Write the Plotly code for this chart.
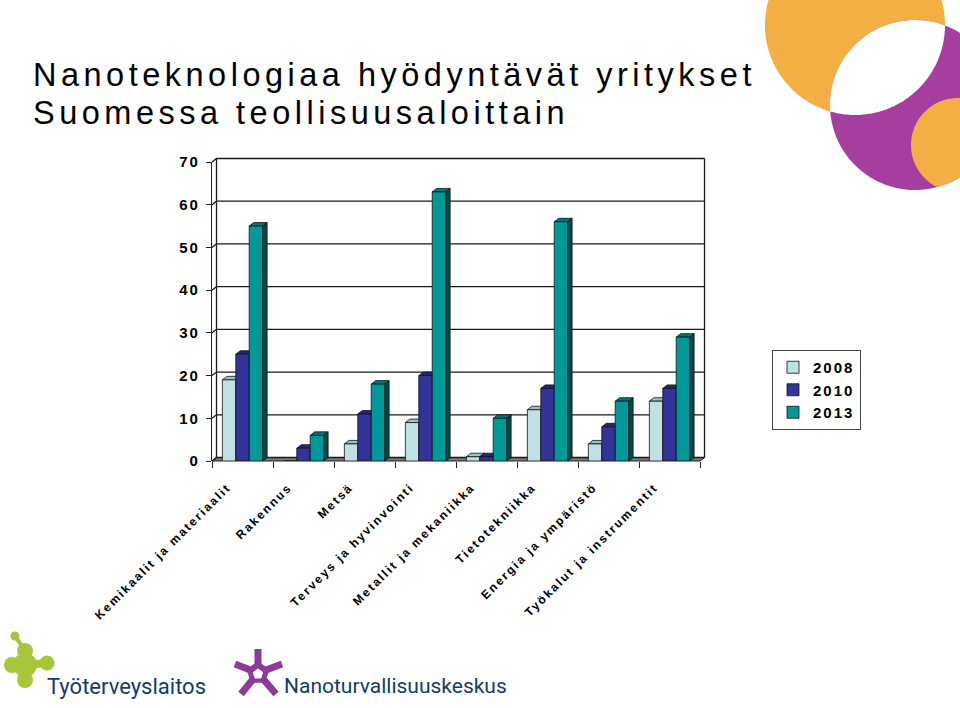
import math
import plotly.graph_objects as go

# ---------------- data ----------------
categories = ["Kemikaalit ja materiaalit", "Rakennus", "Metsä", "Terveys ja hyvinvointi",
              "Metallit ja mekaniikka", "Tietotekniikka", "Energia ja ympäristö",
              "Työkalut ja instrumentit"]
years = ["2008", "2010", "2013"]
values_2008 = [19, 0, 4, 9, 1, 12, 4, 14]
values_2010 = [25, 3, 11, 20, 1, 17, 8, 17]
values_2013 = [55, 6, 18, 63, 10, 56, 14, 29]
y_ticks = [0, 10, 20, 30, 40, 50, 60, 70]

title_line1 = "Nanoteknologiaa hyödyntävät yritykset"
title_line2 = "Suomessa teollisuusaloittain"
logo1_text = "Työterveyslaitos"
logo2_text = "Nanoturvallisuuskeskus"

# ---------------- layout geometry ----------------
W, H = 960, 708
OFF = 0                      # body margin is set to 0 by the post script
SL, SR, ST, SB = 212, 700, 162, 461   # plot area on screen
ML = SL - OFF
MT = ST - OFF
MR = W - (SR - OFF)
MB = H - (SB - OFF)
PW = SR - SL
PH = SB - ST
YMAX = y_ticks[-1]
N = len(categories)
FONT = "Liberation Sans, Arial, sans-serif"


def px_to_paper(x, y):
    return (x - OFF - ML) / PW, (H - MB - (y - OFF)) / PH


def data_x_px(xd):
    return SL + (xd + 0.5) / N * PW


def data_y_px(v):
    return SB - v / YMAX * PH


def paper_path(points, close=True):
    parts = []
    for k, (x, y) in enumerate(points):
        px, py = px_to_paper(x, y)
        parts.append(("M" if k == 0 else "L") + f"{px:.5f},{py:.5f}")
    return " ".join(parts) + (" Z" if close else "")


def ls(text, sp):
    return f'<span style="letter-spacing:{sp}px">{text}</span>'


DX, DY = 4.5, 3.5          # 3D depth in pixels
dxu = DX / (PW / N)
dyu = DY / (PH / YMAX)

front = ['#BFE0E5', '#333399', '#009999']
topc = ['#9CC0C6', '#26267A', '#007878']
sidec = ['#7DA0A6', '#1A1A55', '#004C4C']

series = [values_2008, values_2010, values_2013]
BARGAP = 0.34
bw = (1 - BARGAP) / len(series)

fig = go.Figure()
for j, (name, vals) in enumerate(zip(years, series)):
    fig.add_trace(go.Bar(
        x=list(range(N)), y=vals, name=ls(name, 2),
        marker=dict(color=front[j], line=dict(color='#111111', width=0.8)),
    ))

shapes = []
# back wall, grid and floor
X0, X1 = data_x_px(-0.5), data_x_px(N - 0.5)
Y0 = data_y_px(0)
shapes.append(dict(type='path', xref='paper', yref='paper', layer='below',
                   path=paper_path([(X0, Y0), (X1, Y0), (X1 + DX, Y0 - DY), (X0 + DX, Y0 - DY)]),
                   fillcolor='#7a7a7a', line=dict(color='#222222', width=1)))
for v in y_ticks:
    yv = data_y_px(v)
    shapes.append(dict(type='path', xref='paper', yref='paper', layer='below',
                       path=paper_path([(X0, yv), (X0 + DX, yv - DY), (X1 + DX, yv - DY)], close=False),
                       line=dict(color='#1a1a1a', width=1.3)))
for xx in (X0 + DX, X1 + DX):
    shapes.append(dict(type='path', xref='paper', yref='paper', layer='below',
                       path=paper_path([(xx, Y0 - DY), (xx, data_y_px(YMAX) - DY)], close=False),
                       line=dict(color='#1a1a1a', width=1.3)))

# 3D faces of bars (derived from the data values)
for j, vals in enumerate(series):
    for i, v in enumerate(vals):
        if v <= 0:
            continue
        x0 = i - (1 - BARGAP) / 2 + j * bw
        x1 = x0 + bw
        shapes.append(dict(type='path', xref='x', yref='y', layer='below',
                           path=f"M{x1},0 L{x1},{v} L{x1 + dxu},{v + dyu} L{x1 + dxu},{dyu} Z",
                           fillcolor=sidec[j], line=dict(color='#111111', width=0.8)))
        shapes.append(dict(type='path', xref='x', yref='y', layer='below',
                           path=f"M{x0},{v} L{x1},{v} L{x1 + dxu},{v + dyu} L{x0 + dxu},{v + dyu} Z",
                           fillcolor=topc[j], line=dict(color='#111111', width=0.8)))

# ---------------- decoration top right ----------------
ORANGE = '#F4AF44'
PURPLE = '#A63E9F'


def arc(cx, cy, r, a0, a1, n=80):
    return [(cx + r * math.cos(a0 + (a1 - a0) * k / (n - 1)),
             cy + r * math.sin(a0 + (a1 - a0) * k / (n - 1))) for k in range(n)]


def lens(c1, c2):
    (x1, y1, r1), (x2, y2, r2) = c1, c2
    d = math.hypot(x2 - x1, y2 - y1)
    a = (r1 * r1 - r2 * r2 + d * d) / (2 * d)
    h = math.sqrt(r1 * r1 - a * a)
    phi = math.atan2(y2 - y1, x2 - x1)
    al = math.atan2(h, a)
    be = math.atan2(h, d - a)
    return arc(x1, y1, r1, phi - al, phi + al) + arc(x2, y2, r2, phi + math.pi - be, phi + math.pi + be)


C1 = (855, 25, 90)
C2 = (915, 105, 85)
C3 = (958, 145, 47)
shapes.append(dict(type='path', xref='paper', yref='paper', layer='above',
                   path=paper_path(arc(*C1, 0, 2 * math.pi, 160)), fillcolor=ORANGE, line=dict(width=0)))
shapes.append(dict(type='path', xref='paper', yref='paper', layer='above',
                   path=paper_path(arc(*C2, 0, 2 * math.pi, 160)), fillcolor=PURPLE, line=dict(width=0)))
shapes.append(dict(type='path', xref='paper', yref='paper', layer='above',
                   path=paper_path(lens(C1, C2)), fillcolor='white', line=dict(width=0)))
shapes.append(dict(type='path', xref='paper', yref='paper', layer='above',
                   path=paper_path(lens(C3, C2)), fillcolor=ORANGE, line=dict(width=0)))

# ---------------- logos ----------------
GREEN = '#A8C63A'
for (a, b, c, d, wdt) in [(15, 636, 24, 649, 4), (25, 665, 47, 663, 8)]:
    shapes.append(dict(type='path', xref='paper', yref='paper',
                       path=paper_path([(a, b), (c, d)], close=False), line=dict(color=GREEN, width=wdt)))
for (cx, cy, r) in [(15, 636, 4.5), (25, 651, 8), (12, 665, 8), (25, 680, 8), (47, 663, 7.5), (25, 665, 12)]:
    x0p, y0p = px_to_paper(cx - r, cy - r)
    x1p, y1p = px_to_paper(cx + r, cy + r)
    shapes.append(dict(type='circle', xref='paper', yref='paper', x0=x0p, y0=y0p, x1=x1p, y1=y1p,
                       fillcolor=GREEN, line=dict(width=0)))

STAR = '#8E3A97'
scx, scy = 258, 673
for (ex, ey) in [(258, 649), (235, 664), (282, 664), (241, 694), (276, 694)]:
    shapes.append(dict(type='path', xref='paper', yref='paper',
                       path=paper_path([(scx, scy), (ex, ey)], close=False), line=dict(color=STAR, width=7)))
pent_outer = [(scx + 12 * math.cos(-math.pi / 2 + 2 * math.pi * k / 5),
               scy + 12 * math.sin(-math.pi / 2 + 2 * math.pi * k / 5)) for k in range(5)]
pent_inner = [(scx + 5.5 * math.cos(-math.pi / 2 + 2 * math.pi * k / 5),
               scy + 1 + 5.5 * math.sin(-math.pi / 2 + 2 * math.pi * k / 5)) for k in range(5)]
shapes.append(dict(type='path', xref='paper', yref='paper', path=paper_path(pent_outer),
                   fillcolor=STAR, line=dict(width=0)))
shapes.append(dict(type='path', xref='paper', yref='paper', path=paper_path(pent_inner),
                   fillcolor='white', line=dict(width=0)))

annotations = []
tx, ty1 = px_to_paper(31, 74.5)
_, ty2 = px_to_paper(31, 112.5)
for t, ty in [(title_line1, ty1), (title_line2, ty2)]:
    annotations.append(dict(x=tx, y=ty, xref='paper', yref='paper', xanchor='left', yanchor='middle',
                            showarrow=False, text=ls(t, 4.5),
                            font=dict(family=FONT, size=32.5, color='black')))
lx1, ly = px_to_paper(45, 686)
annotations.append(dict(x=lx1, y=ly, xref='paper', yref='paper', xanchor='left', yanchor='middle',
                        showarrow=False, text=logo1_text,
                        font=dict(family='Roboto', size=22, color='#123B6D')))
lx2, _ = px_to_paper(282, 686)
annotations.append(dict(x=lx2, y=ly, xref='paper', yref='paper', xanchor='left', yanchor='middle',
                        showarrow=False, text=logo2_text,
                        font=dict(family='Roboto', size=21, color='#123B6D')))

legx, legy = px_to_paper(772, 350)

fig.update_layout(
    width=W, height=H,
    margin=dict(l=ML, r=MR, t=MT, b=MB, pad=0),
    paper_bgcolor='white', plot_bgcolor='rgba(0,0,0,0)',
    barmode='group', bargap=BARGAP, bargroupgap=0,
    showlegend=True,
    legend=dict(x=legx, y=legy, xanchor='left', yanchor='top', bgcolor='white',
                bordercolor='#444444', borderwidth=1,
                font=dict(family=FONT, size=15, color='black', weight='bold'),
                itemwidth=30, traceorder='normal'),
    xaxis=dict(range=[-0.5, N - 0.5], tickmode='array', tickvals=list(range(N)),
               ticktext=[ls(c, 2) for c in categories], tickangle=-45,
               tickfont=dict(family=FONT, size=12, color='black', weight='bold'),
               ticklabelshift=-15, ticklabelstandoff=16,
               showline=False, showgrid=False, zeroline=False, ticks='',
               minor=dict(tickmode='array', tickvals=[k - 0.5 for k in range(N + 1)],
                          ticks='outside', ticklen=6, tickcolor='#222222', tickwidth=1.3, showgrid=False),
               fixedrange=True),
    yaxis=dict(range=[0, YMAX], tickmode='array', tickvals=y_ticks,
               ticktext=[ls(str(t), 2) for t in y_ticks],
               tickfont=dict(family=FONT, size=15, color='black', weight='bold'),
               ticklabelstandoff=3,
               showline=True, linecolor='#222222', linewidth=1.3,
               ticks='outside', ticklen=5, tickcolor='#222222', tickwidth=1.3,
               showgrid=False, zeroline=False, fixedrange=True),
    shapes=shapes,
    annotations=annotations,
)

fig.write_html("out.html", config={'displayModeBar': False},
               post_script="document.body.style.margin='0';")
